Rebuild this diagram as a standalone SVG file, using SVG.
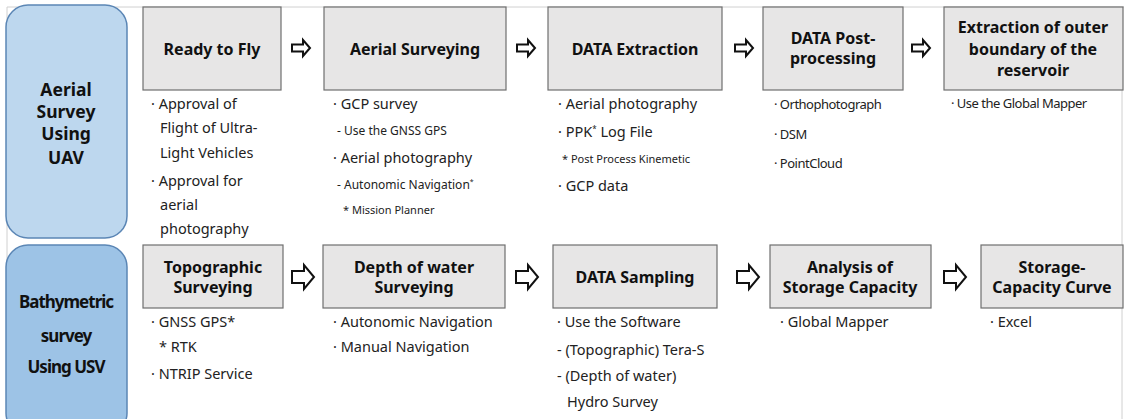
<svg xmlns="http://www.w3.org/2000/svg" xmlns:xlink="http://www.w3.org/1999/xlink" width="1124" height="419" viewBox="0 0 1124 419">
<style>
.bg{fill:#ffffff}
.grid{stroke:#d0d0d0;stroke-width:1;fill:none}
.side1{fill:#bdd7ee;stroke:#5b86b5;stroke-width:1.5}
.side2{fill:#9dc3e6;stroke:#5b86b5;stroke-width:1.5}
.box{fill:#e7e6e6;stroke:#6f6f6f;stroke-width:1.2}
.t{font-family:"Noto Sans","Noto Sans CJK KR",sans-serif;font-weight:bold;font-size:16px;fill:#111;text-anchor:middle}
.s{font-family:"Noto Sans","Noto Sans CJK KR",sans-serif;font-weight:bold;font-size:17.5px;fill:#111;text-anchor:middle}
.sc{font-family:"Noto Sans","Noto Sans CJK KR",sans-serif;font-weight:bold;font-size:17px;fill:#111;text-anchor:middle;letter-spacing:-1px}
.b{font-family:"Noto Sans","Noto Sans CJK KR",sans-serif;font-size:14.5px;fill:#222}
.m{font-family:"Noto Sans","Noto Sans CJK KR",sans-serif;font-size:12px;fill:#222}
.n{font-family:"Noto Sans","Noto Sans CJK KR",sans-serif;font-size:11px;fill:#222}
.c{font-family:"Noto Sans","Noto Sans CJK KR",sans-serif;font-size:13px;fill:#222;letter-spacing:-0.5px}
.arr{fill:#ffffff;stroke:#111;stroke-width:2;stroke-linejoin:miter}
</style>
<defs>
<path id="a1" d="M0,-3.5 L11,-3.5 L11,-8 L18,0 L11,8 L11,3.5 L0,3.5 Z"/>
<path id="a2" d="M0,-6 L12,-6 L12,-12 L22,0 L12,12 L12,6 L0,6 Z"/>
</defs>
<rect class="bg" x="0" y="0" width="1124" height="419"/>
<g id="grid">
<line class="grid" x1="7" y1="7" x2="1124" y2="7"/>
<line class="grid" x1="7" y1="7" x2="7" y2="419"/>
<line class="grid" x1="1122" y1="7" x2="1122" y2="419"/>
</g>
<g id="uav-label">
<rect class="side1" x="6" y="5" width="121" height="233" rx="22" ry="22"/>
<text class="s" x="66" y="96">Aerial</text>
<text class="s" x="66" y="118">Survey</text>
<text class="s" x="66" y="140">Using</text>
<text class="s" x="66" y="164">UAV</text>
</g>
<g id="usv-label">
<rect class="side2" x="6" y="245" width="121" height="190" rx="22" ry="22"/>
<text class="sc" x="66" y="308">Bathymetric</text>
<text class="sc" x="66" y="342">survey</text>
<text class="sc" x="66" y="373">Using USV</text>
</g>
<g id="ready">
<rect class="box" x="143" y="7" width="138" height="83"/>
<text class="t" x="212" y="55">Ready to Fly</text>
<text class="b" x="151" y="109">· Approval of</text>
<text class="b" x="160" y="133">Flight of Ultra-</text>
<text class="b" x="160" y="158">Light Vehicles</text>
<text class="b" x="151" y="186">· Approval for</text>
<text class="b" x="160" y="210">aerial</text>
<text class="b" x="160" y="234">photography</text>
</g>
<g id="aerial">
<rect class="box" x="324" y="7" width="182" height="83"/>
<text class="t" x="415" y="55">Aerial Surveying</text>
<text class="b" x="333" y="109">· GCP survey</text>
<text class="m" x="337" y="135">- Use the GNSS GPS</text>
<text class="b" x="333" y="163">· Aerial photography</text>
<text class="m" x="337" y="189">- Autonomic Navigation<tspan font-size="7" dy="-5">*</tspan></text>
<text class="n" x="343" y="214">* Mission Planner</text>
</g>
<g id="extraction">
<rect class="box" x="548" y="7" width="174" height="83"/>
<text class="t" x="635" y="55">DATA Extraction</text>
<text class="b" x="558" y="109">· Aerial photography</text>
<text class="b" x="558" y="137">· PPK<tspan font-size="8" dy="-5">*</tspan><tspan dy="5"> Log File</tspan></text>
<text class="n" x="562" y="163">* Post Process Kinemetic</text>
<text class="b" x="558" y="191">· GCP data</text>
</g>
<g id="postproc">
<rect class="box" x="763" y="7" width="140" height="83"/>
<text class="t" x="833" y="44">DATA Post-</text>
<text class="t" x="833" y="64">processing</text>
<text class="c" x="774" y="109">· Orthophotograph</text>
<text class="c" x="774" y="139">· DSM</text>
<text class="c" x="774" y="168">· PointCloud</text>
</g>
<g id="boundary">
<rect class="box" x="944" y="7" width="179" height="83"/>
<text class="t" x="1033" y="33">Extraction of outer</text>
<text class="t" x="1033" y="55">boundary of the</text>
<text class="t" x="1033" y="76">reservoir</text>
<text class="c" x="951" y="108">· Use the Global Mapper</text>
</g>
<g id="topo">
<rect class="box" x="143" y="245" width="140" height="63"/>
<text class="t" x="213" y="273">Topographic</text>
<text class="t" x="213" y="293">Surveying</text>
<text class="b" x="151" y="327">·  GNSS GPS*</text>
<text class="b" x="159" y="352">* RTK</text>
<text class="b" x="151" y="379">· NTRIP Service</text>
</g>
<g id="depth">
<rect class="box" x="323" y="245" width="182" height="63"/>
<text class="t" x="414" y="273">Depth of water</text>
<text class="t" x="414" y="293">Surveying</text>
<text class="b" x="333" y="327">· Autonomic Navigation</text>
<text class="b" x="333" y="352">· Manual Navigation</text>
</g>
<g id="sampling">
<rect class="box" x="553" y="245" width="164" height="63"/>
<text class="t" x="635" y="283">DATA Sampling</text>
<text class="b" x="557" y="327">· Use the Software</text>
<text class="b" x="557" y="355">- (Topographic) Tera-S</text>
<text class="b" x="557" y="381">- (Depth of water)</text>
<text class="b" x="567" y="407">Hydro Survey</text>
</g>
<g id="analysis">
<rect class="box" x="770" y="245" width="161" height="63"/>
<text class="t" x="850" y="273">Analysis of</text>
<text class="t" x="850" y="293">Storage Capacity</text>
<text class="b" x="780" y="327">· Global Mapper</text>
</g>
<g id="curve">
<rect class="box" x="981" y="245" width="142" height="63"/>
<text class="t" x="1052" y="273">Storage-</text>
<text class="t" x="1052" y="293">Capacity Curve</text>
<text class="b" x="990" y="327">· Excel</text>
</g>
<g id="connectors">
<use href="#a1" xlink:href="#a1" class="arr" transform="translate(292,48)"/>
<use href="#a1" xlink:href="#a1" class="arr" transform="translate(517,48)"/>
<use href="#a1" xlink:href="#a1" class="arr" transform="translate(735,48)"/>
<use href="#a1" xlink:href="#a1" class="arr" transform="translate(912,48)"/>
<use href="#a2" xlink:href="#a2" class="arr" transform="translate(292,277)"/>
<use href="#a2" xlink:href="#a2" class="arr" transform="translate(516,277)"/>
<use href="#a2" xlink:href="#a2" class="arr" transform="translate(737,277)"/>
<use href="#a2" xlink:href="#a2" class="arr" transform="translate(944,277)"/>
</g>
</svg>
